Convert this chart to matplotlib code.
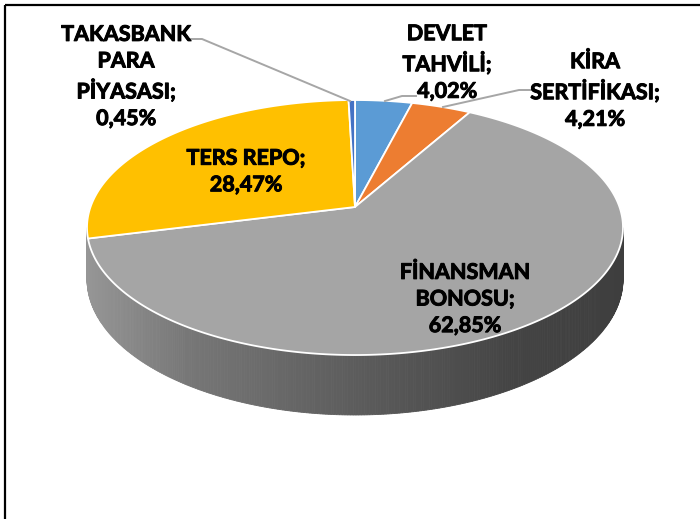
import numpy as np
import matplotlib.pyplot as plt
import matplotlib.patheffects as pe
from matplotlib.patches import Polygon

# data: clockwise from 12 o'clock
names = ['DEVLET\nTAHVİLİ', 'KİRA\nSERTİFİKASI', 'FİNANSMAN\nBONOSU',
         'TERS REPO', 'TAKASBANK\nPARA\nPİYASASI']
shares = [4.02, 4.21, 62.85, 28.47, 0.45]
colors = ['#5B9BD5', '#ED7D31', '#A5A5A5', '#FFC000', '#4472C4']
side_colors = ['#3A6E9E', '#B0561C', None, None, '#2F528F']

# label layout (center of text block, pixels)
label_pos = [(447, 62.5), (595, 90.5), (465, 299), (246, 171.5), (126, 76.5)]

# perspective pie geometry (pixels)
CX, CY = 355, 207
SX, SY = 264.5, 124.2
E = 0.161
DEPTH = 50.3

# gradient stops for the grey side
grad_x = [87, 187, 357, 446, 513, 623]
grad_v = [150, 119, 92, 79, 68, 62]


def proj(phi, z=0.0):
    u, v = np.sin(phi), np.cos(phi)
    w = 1 + E * v
    return CX + SX * u / w, CY - SY * v / w + DEPTH * z / w


def grey(x):
    g = np.interp(x, grad_x, grad_v) / 255
    return (g, g, g)


fig = plt.figure(figsize=(7, 5.19), dpi=100)
ax = fig.add_axes([0, 0, 1, 1])
ax.set_xlim(0, 700)
ax.set_ylim(519, 0)
ax.axis('off')

bounds = np.radians(np.concatenate([[0], np.cumsum(shares)]) * 3.6)
phi_r = np.pi / 2 + np.arcsin(E)
phi_l = 3 * np.pi / 2 - np.arcsin(E)

# side wall
for i in range(len(shares)):
    a0, a1 = max(bounds[i], phi_r), min(bounds[i + 1], phi_l)
    if a1 <= a0:
        continue
    n = max(2, int(np.degrees(a1 - a0) * 2))
    ph = np.linspace(a0, a1, n + 1)
    for k in range(n):
        p = np.array([ph[k], ph[k + 1]])
        xt, yt = proj(p)
        xb, yb = proj(p, 1)
        pts = np.column_stack([np.r_[xt, xb[::-1]], np.r_[yt, yb[::-1]]])
        if side_colors[i] is None:
            c = grey(xt.mean())
        else:
            c = side_colors[i]
        ax.add_patch(Polygon(pts, closed=True, fc=c, ec=c, lw=0.6))

# top face
for i in range(len(shares)):
    ph = np.linspace(bounds[i], bounds[i + 1], max(3, int(shares[i] * 4)))
    xs, ys = proj(ph)
    pts = np.column_stack([np.r_[CX, xs], np.r_[CY, ys]])
    ax.add_patch(Polygon(pts, closed=True, fc=colors[i], ec='white',
                         lw=1.3, joinstyle='round'))

# leader lines
lc = '#A6A6A6'
ax.plot([350, 202, 190], [101, 39, 39], color=lc, lw=1.4)
ax.plot([385, 402, 416], [101, 96, 96], color=lc, lw=1.4)
ax.plot([443, 519, 531], [107, 90, 90], color=lc, lw=1.4)

# labels
for name, val, (x, y) in zip(names, shares, label_pos):
    txt = f"{name};\n{val:.2f}%".replace('.', ',')
    ax.text(x, y, txt, ha='center', va='center', fontsize=15.5,
            fontweight='bold', linespacing=1.33,
            family=['Lato', 'DejaVu Sans'],
            path_effects=[pe.withStroke(linewidth=0.7, foreground='black')])

# frame
ax.plot([4.5, 700], [4.5, 4.5], color='black', lw=1.6, solid_capstyle='butt')
ax.plot([4.5, 4.5], [4.5, 519], color='black', lw=1.6, solid_capstyle='butt')

fig.savefig('out.png', dpi=100)
